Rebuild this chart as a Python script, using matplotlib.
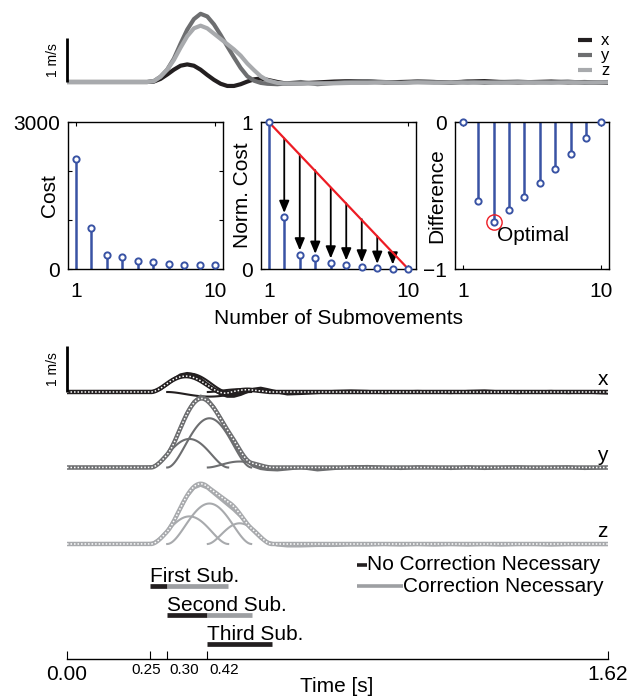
import numpy as np
import matplotlib.pyplot as plt
from matplotlib.transforms import blended_transform_factory, ScaledTranslation

plt.rcParams['font.family'] = ['Liberation Sans', 'DejaVu Sans']
plt.rcParams['font.size'] = 15

# --- measured velocity (m/s) ---
t_meas = [0.00, 0.22, 0.24, 0.26, 0.28, 0.30, 0.32, 0.34, 0.36, 0.38, 0.40,
          0.42, 0.44, 0.46, 0.48, 0.50, 0.52, 0.54, 0.56, 0.58, 0.60,
          0.63, 0.66, 0.70, 0.75, 0.80, 0.85, 0.90, 0.95, 1.00, 1.05,
          1.10, 1.15, 1.20, 1.25, 1.30, 1.35, 1.40, 1.45, 1.50, 1.55, 1.62]
vel_x = [0, 0, 0, 0.01, 0.07, 0.17, 0.28, 0.37, 0.40, 0.37, 0.28,
         0.16, 0.05, -0.04, -0.09, -0.09, -0.05, 0.01, 0.06, 0.08, 0.05,
         0.00, -0.04, -0.03, -0.01, 0.01, 0.02, 0.01, -0.01, 0.0, 0.01,
         0.0, -0.01, 0.01, 0.02, 0.0, -0.01, 0.0, 0.01, -0.01, 0.0, -0.02]
vel_y = [0, 0, 0, 0.02, 0.12, 0.28, 0.53, 0.87, 1.19, 1.43, 1.55,
         1.49, 1.31, 1.07, 0.81, 0.56, 0.32, 0.13, 0.03, -0.02, -0.04,
         -0.05, -0.03, 0.0, -0.05, -0.02, 0.01, 0.02, 0.0, -0.02, 0.01,
         0.0, -0.02, 0.01, -0.02, 0.0, 0.01, -0.01, 0.0, 0.01, -0.02, 0.0]
vel_z = [0, 0, 0, 0.02, 0.12, 0.28, 0.50, 0.78, 1.04, 1.22, 1.28,
         1.22, 1.10, 0.98, 0.86, 0.74, 0.60, 0.42, 0.27, 0.13, 0.04,
         -0.02, -0.04, -0.04, -0.03, -0.03, -0.02, -0.02, -0.01, -0.02, -0.01,
         -0.02, -0.01, -0.02, -0.01, -0.02, -0.01, -0.01, -0.02, -0.01, -0.01, -0.01]

# --- submovements (onset s, duration s, peak m/s per axis) ---
sub_onset = [0.25, 0.30, 0.42]
sub_dur = [0.233, 0.253, 0.194]
amp_x = [0.40, -0.10, 0.06]
amp_y = [0.62, 1.07, 0.13]
amp_z = [0.60, 0.88, 0.45]
sub_names = ["First Sub.", "Second Sub.", "Third Sub."]

# --- cost vs number of submovements ---
n_sub = np.arange(1, 11)
cost = [2250, 840, 287, 239, 171, 137, 102, 89, 82, 82]
norm_cost = [1.0, 0.353, 0.098, 0.075, 0.043, 0.030, 0.016, 0.007, 0.002, 0.0]
difference = [0.0, -0.535, -0.681, -0.597, -0.510, -0.417, -0.323, -0.216, -0.109, 0.0]

time_ticks = [0.00, 0.25, 0.30, 0.42, 1.62]

col_x, col_y, col_z = "#231f20", "#6d6e70", "#a8aaad"
col_corr = "#9d9fa2"
blue, red = "#3953a4", "#ed1c24"
W, H = 640, 699


def px_rect(l, t, r, b):
    return [l / W, 1 - b / H, (r - l) / W, (b - t) / H]


def min_jerk(t, t0, d, a):
    tau = np.clip((t - t0) / d, 0, 1)
    return a * 16 * tau**2 * (1 - tau)**2


fig = plt.figure(figsize=(6.4, 6.99), dpi=100)

# --- top: measured velocities ---
ax_top = fig.add_axes(px_rect(67, 0, 608, 100))
ax_top.set_xlim(0, 1.62)
ax_top.set_ylim(-18 / 44, 82 / 44)
ax_top.axis("off")
for v, c in [(vel_x, col_x), (vel_y, col_y), (vel_z, col_z)]:
    ax_top.plot(t_meas, v, color=c, lw=3, solid_joinstyle="round")
ax_top.plot([0, 0], [0, 1], color="k", lw=2, clip_on=False, solid_capstyle="butt")
ax_top.text(-0.02, 0.5, "1 m/s", rotation=90, ha="right", va="center", fontsize=10)
for lbl, c, yy in [("x", col_x, 0.95), ("y", col_y, 0.61), ("z", col_z, 0.27)]:
    ax_top.plot([1.53, 1.572], [yy, yy], color=c, lw=3, solid_capstyle="butt")
    ax_top.text(1.625, yy, lbl, ha="right", va="center", fontsize=12)

# --- middle: cost panels ---
rects = [px_rect(68, 122, 223, 269), px_rect(261, 122, 416, 269), px_rect(455, 122, 609, 269)]
axs = [fig.add_axes(r) for r in rects]
vals = [cost, norm_cost, difference]
ylims = [(0, 3000), (0, 1), (-1, 0)]
yticks = [[0, 1000, 2000, 3000], [0, 1], [-1, 0]]
ylabs = [["0", "", "", "3000"], ["0", "1"], ["\u22121", "0"]]
names = ["Cost", "Norm. Cost", "Difference"]
for ax, v, yl, yt, ytl, nm in zip(axs, vals, ylims, yticks, ylabs, names):
    ml, sl, bl = ax.stem(n_sub, v, basefmt=" ")
    plt.setp(sl, color=blue, lw=1.8)
    plt.setp(ml, color=blue, mfc="white", ms=4.5, mew=1.4, clip_on=False, zorder=4)
    ax.set_xlim(0.5, 10.5)
    ax.set_ylim(*yl)
    ax.set_xticks([1, 10])
    ax.set_yticks(yt)
    ax.set_yticklabels(ytl)
    ax.tick_params(direction="in", top=True, right=True, length=3, width=0.8, pad=6)
    ax.tick_params(axis="x", pad=9)
    for s in ax.spines.values():
        s.set_linewidth(1.0)
    ax.set_ylabel(nm)
    ax.yaxis.set_label_coords(-0.055, 0.5)

ax2 = axs[1]
line_val = np.array(norm_cost) - np.array(difference)
for n, nc, lv in zip(n_sub[1:9], norm_cost[1:9], line_val[1:9]):
    ax2.annotate("", xy=(n, nc), xytext=(n, lv),
                 arrowprops=dict(arrowstyle="-|>,head_length=0.6,head_width=0.25",
                                 color="k", lw=1.3, mutation_scale=12,
                                 shrinkA=0, shrinkB=3))
ax2.plot([n_sub[0], n_sub[-1]], [norm_cost[0], norm_cost[-1]], color=red, lw=1.6, zorder=3)
ax2.set_xlabel("Number of Submovements", labelpad=6)

ax3 = axs[2]
k = int(np.argmin(difference))
ax3.plot(n_sub[k], difference[k], "o", ms=11, mfc="none", mec=red, mew=1.0)
ax3.text(n_sub[k] + 0.25, difference[k] - 0.09, "Optimal", ha="left", va="center")

# --- bottom: decomposition ---
ax_b = fig.add_axes(px_rect(67, 330, 608, 659))
ax_b.set_xlim(0, 1.62)
ax_b.set_ylim(-(659 - 392) / 46, (392 - 330) / 46)
for s in ["left", "right", "top"]:
    ax_b.spines[s].set_visible(False)
ax_b.spines["bottom"].set_linewidth(1.0)
ax_b.set_yticks([])

t_fine = np.linspace(0, 1.62, 800)
offsets = [0, -75.5 / 46, -152 / 46]
for v, amps, c, off, lbl in zip([vel_x, vel_y, vel_z], [amp_x, amp_y, amp_z],
                                [col_x, col_y, col_z], offsets, ["x", "y", "z"]):
    ax_b.plot(t_meas, np.array(v) + off, color=c, lw=2.4)
    total = np.zeros_like(t_fine)
    for t0, d, a in zip(sub_onset, sub_dur, amps):
        comp = min_jerk(t_fine, t0, d, a)
        total += comp
        m = (t_fine >= t0) & (t_fine <= t0 + d)
        ax_b.plot(t_fine[m], comp[m] + off, color=c, lw=1.5)
    ax_b.plot(t_fine, total + off, color=c, lw=3.2)
    ax_b.plot(t_fine, total + off, color="white", lw=1.1, ls=(0, (1, 1.3)))
    ax_b.text(1.62, off + 0.06, lbl, ha="right", va="bottom", fontsize=15)

ax_b.plot([0, 0], [0, 1], color="k", lw=2, clip_on=False, solid_capstyle="butt")
ax_b.text(-0.02, 0.5, "1 m/s", rotation=90, ha="right", va="center", fontsize=10)

# submovement spans
bar_y = [-194 / 46, -223 / 46, -252 / 46]
for i, (t0, d, nm, by) in enumerate(zip(sub_onset, sub_dur, sub_names, bar_y)):
    end = t0 + d
    split = sub_onset[i + 1] if i + 1 < len(sub_onset) else end
    ax_b.plot([t0, split], [by, by], color=col_x, lw=3.4, solid_capstyle="butt")
    if split < end:
        ax_b.plot([split, end], [by, by], color=col_corr, lw=3.4, solid_capstyle="butt")
    ax_b.text(t0, by + 0.09, nm, ha="left", va="baseline")

# legend
leg1, leg2 = -173 / 46, -194 / 46
ax_b.plot([0.868, 0.898], [leg1, leg1], color=col_x, lw=2.6, solid_capstyle="butt")
ax_b.text(0.898, leg1, "No Correction Necessary", ha="left", va="center")
ax_b.plot([0.868, 1.006], [leg2, leg2], color=col_corr, lw=2.6, solid_capstyle="butt")
ax_b.text(1.006, leg2, "Correction Necessary", ha="left", va="center")

# time axis
ax_b.set_xticks(time_ticks)
ax_b.set_xticklabels([])
ax_b.tick_params(axis="x", direction="in", length=6, width=0.8)
trans = blended_transform_factory(ax_b.transData, ax_b.transAxes)
for t in time_ticks:
    if t in (0.0, 1.62):
        ax_b.text(t, 0, f"{t:.2f}", transform=trans + ScaledTranslation(0, -4 / 72, fig.dpi_scale_trans),
                  ha="center", va="top", fontsize=15)
    else:
        dx = -4 if t == 0.25 else 2
        ha = "center" if t == 0.25 else "left"
        ax_b.text(t, 0, f"{t:.2f}", transform=trans + ScaledTranslation(dx / 100, -3 / 72, fig.dpi_scale_trans),
                  ha=ha, va="top", fontsize=11)
fig.text(337 / W, 1 - 687 / H, "Time [s]", ha="center", va="center", fontsize=15)

fig.savefig("out.png", dpi=100)
